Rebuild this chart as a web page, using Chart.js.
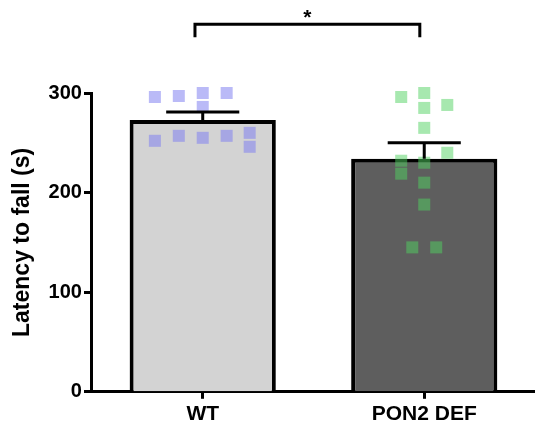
<!DOCTYPE html>
<html>
<head>
<meta charset="utf-8">
<script src="https://cdn.jsdelivr.net/npm/chart.js@4.4.0/dist/chart.umd.min.js"></script>
<style>
  html, body { margin: 0; padding: 0; background: #fff; }
  #wrap { width: 535px; height: 431px; }
</style>
</head>
<body>
<div id="wrap"><canvas id="chart"></canvas></div>
<script>
// groups and summary values
const groups = ["WT", "PON2 DEF"];
const means = [273, 234];
const sems = [8, 16];
const yTicks = [0, 100, 200, 300];

// individual animals (jitter = horizontal offset within the group)
const wtValues = [296, 297, 300, 300, 286, 252, 257, 255, 257, 260, 246];
const wtJitter = [-0.216, -0.108, 0, 0.108, 0, -0.216, -0.108, 0, 0.108, 0.212, 0.212];
const defValues = [296, 300, 285, 288, 265, 240, 232, 230, 219, 210, 188, 145, 145];
const defJitter = [-0.104, 0, 0, 0.104, 0, 0.104, -0.104, 0, -0.104, 0, 0, -0.054, 0.054];

const FONT = "'Liberation Sans', Arial, sans-serif";

const toPoints = (values, jitter, groupIndex) =>
  values.map((v, i) => ({ x: groupIndex + jitter[i], y: v }));

// Error bars (upper half only) + significance bracket
const extrasPlugin = {
  id: "extras",
  afterDatasetsDraw(chart) {
    const ctx = chart.ctx;
    const xs = chart.scales.xs;
    const y = chart.scales.y;
    ctx.save();
    ctx.strokeStyle = "#000";
    ctx.lineWidth = 3;
    ctx.lineCap = "butt";
    means.forEach((m, i) => {
      const cx = xs.getPixelForValue(i);
      const top = y.getPixelForValue(m + sems[i]);
      const half = xs.getPixelForValue(i + 0.165) - cx;
      ctx.beginPath();
      ctx.moveTo(cx, y.getPixelForValue(m));
      ctx.lineTo(cx, top);
      ctx.moveTo(cx - half, top);
      ctx.lineTo(cx + half, top);
      ctx.stroke();
    });
    // significance bracket
    const x0 = xs.getPixelForValue(-0.035);
    const x1 = xs.getPixelForValue(0.98);
    const yb = y.getPixelForValue(369);
    const ye = y.getPixelForValue(356);
    ctx.beginPath();
    ctx.moveTo(x0, ye);
    ctx.lineTo(x0, yb);
    ctx.lineTo(x1, yb);
    ctx.lineTo(x1, ye);
    ctx.stroke();
    ctx.fillStyle = "#000";
    ctx.font = "bold 21px " + FONT;
    ctx.textAlign = "center";
    ctx.textBaseline = "middle";
    ctx.fillText("*", (x0 + x1) / 2, y.getPixelForValue(375));
    ctx.restore();
  }
};

new Chart(document.getElementById("chart"), {
  data: {
    labels: groups,
    datasets: [
      {
        type: "bar",
        data: means,
        backgroundColor: ["#d3d3d3", "#5e5e5e"],
        borderColor: "#000",
        borderWidth: 4,
        grouped: false,
        categoryPercentage: 1,
        barPercentage: 0.66,
        order: 3
      },
      {
        type: "scatter",
        xAxisID: "xs",
        data: toPoints(wtValues, wtJitter, 0),
        pointStyle: "rect",
        pointRadius: 8.5,
        pointBorderWidth: 0,
        backgroundColor: "rgba(130,130,240,0.55)",
        clip: false,
        order: 1
      },
      {
        type: "scatter",
        xAxisID: "xs",
        data: toPoints(defValues, defJitter, 1),
        pointStyle: "rect",
        pointRadius: 8.5,
        pointBorderWidth: 0,
        backgroundColor: "rgba(80,210,95,0.5)",
        clip: false,
        order: 2
      }
    ]
  },
  options: {
    responsive: true,
    maintainAspectRatio: false,
    animation: false,
    layout: { autoPadding: false, padding: { top: 93, right: 0, left: 9, bottom: 1 } },
    plugins: { legend: { display: false }, tooltip: { enabled: false } },
    scales: {
      x: {
        type: "category",
        offset: true,
        border: { display: true, color: "#000", width: 3 },
        grid: {
          display: true,
          offset: false,
          drawOnChartArea: false,
          drawTicks: true,
          tickLength: 7,
          tickWidth: 3,
          tickColor: "#000"
        },
        ticks: { color: "#000", padding: 3, font: { family: FONT, size: 21, weight: "bold" } }
      },
      xs: {
        type: "linear",
        display: false,
        min: -0.5,
        max: 1.5
      },
      y: {
        min: 0,
        max: 300,
        afterBuildTicks: (axis) => { axis.ticks = yTicks.map((v) => ({ value: v })); },
        border: { display: true, color: "#000", width: 3 },
        grid: {
          display: true,
          drawOnChartArea: false,
          drawTicks: true,
          tickLength: 8,
          tickWidth: 3,
          tickColor: "#000"
        },
        ticks: { color: "#000", padding: 2, font: { family: FONT, size: 20, weight: "bold" } },
        title: {
          display: true,
          text: "Latency to fall (s)",
          color: "#000",
          padding: { top: 0, bottom: 10 },
          font: { family: FONT, size: 23, weight: "bold" }
        }
      }
    }
  },
  plugins: [extrasPlugin]
});
</script>
</body>
</html>
